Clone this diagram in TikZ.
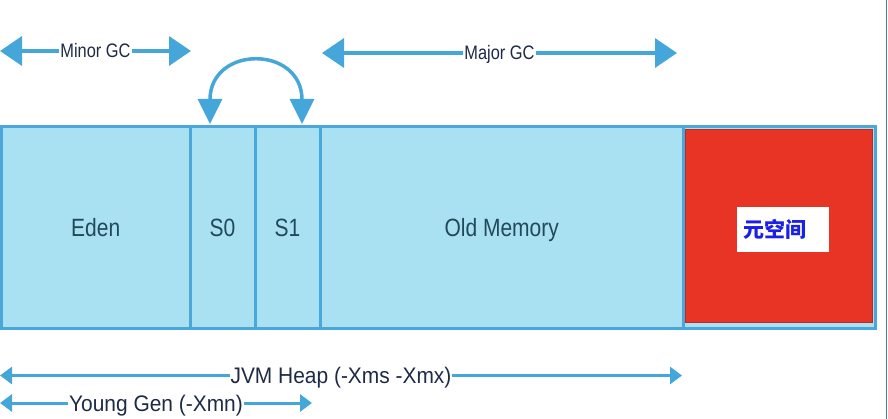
\documentclass[tikz,border=0pt]{standalone}
\usepackage{fontspec}
\setmainfont{Liberation Sans}
\newfontfamily\cjk{Noto Sans CJK SC}
\usetikzlibrary{arrows.meta}
\definecolor{heapfill}{HTML}{A9E1F3}
\definecolor{heapline}{HTML}{4AA7DA}
\definecolor{arrowblue}{HTML}{45A6DA}
\definecolor{labtext}{HTML}{1E2B45}
\definecolor{regtext}{HTML}{22495A}
\definecolor{metared}{HTML}{E73425}
\definecolor{metaedge}{HTML}{B92A20}
\definecolor{metatext}{HTML}{1A20E6}
\definecolor{edgeline}{HTML}{4A7F78}
\newcommand{\nar}[2][0.84]{\scalebox{#1}[1]{#2}}
\begin{document}
\begin{tikzpicture}[x=1pt,y=-1pt,
  region/.style={draw=heapline, fill=heapfill, line width=3pt, minimum height=202pt,
    inner sep=0pt, text=regtext, font=\fontsize{25}{25}\selectfont, text height=18pt, text depth=0pt},
  gcarrow/.style={draw=arrowblue, line width=3.5pt,
    {Triangle[length=22pt,width=29pt]}-{Triangle[length=22pt,width=29pt]}},
  curvearrow/.style={draw=arrowblue, line width=3.5pt,
    {Triangle[length=25pt,width=24pt]}-{Triangle[length=25pt,width=24pt]}},
  heaparrow/.style={draw=arrowblue, line width=3pt,
    {Triangle[length=12pt,width=17pt]}-{Triangle[length=12pt,width=17pt]}},
  gclabel/.style={fill=white, text=labtext, inner xsep=1pt, inner ysep=1pt,
    font=\fontsize{19.5}{19.5}\selectfont, text height=14pt, text depth=0pt},
  heaplabel/.style={fill=white, text=labtext, inner xsep=1pt, inner ysep=1pt,
    font=\fontsize{22.5}{22.5}\selectfont, text height=16pt, text depth=0pt}
]
\useasboundingbox (0,0) rectangle (888,419);

% heap regions
\node[region, minimum width=188.5pt] (eden) at (95.75,227.5) {\nar{Eden}};
\node[region, minimum width=65pt] (s0) at (222.5,227.5) {\nar{S0}};
\node[region, minimum width=65pt] (s1) at (287.5,227.5) {\nar{S1}};
\node[region, minimum width=363.5pt] (old) at (501.75,227.5) {\nar{Old Memory}};
\node[region, minimum width=192pt] (meta) at (779.5,227.5) {};
\node[fill=metared, draw=metaedge, line width=0.8pt, minimum width=187pt, minimum height=193pt, inner sep=0pt] (metared) at (779,226) {};
\node[fill=white, minimum width=92pt, minimum height=45pt, text width=80pt, inner xsep=6pt, inner ysep=0pt, align=left,
  text=metatext, font=\cjk\bfseries\fontsize{21}{21}\selectfont] (metalabel) at (783,229.5) {元空间};

% GC arrows
\coordinate (minorL) at (0,51);
\coordinate (minorR) at (191,51);
\coordinate (majorL) at (322,53);
\coordinate (majorR) at (677,53);
\draw[gcarrow] (minorL) -- node[gclabel] {\nar{Minor GC}} (minorR);
\draw[gcarrow] (majorL) -- node[gclabel] {\nar{Major GC}} (majorR);

% survivor swap arrow
\coordinate (s0tip) at (210,124);
\coordinate (s1tip) at (302,124);
\draw[curvearrow] (s0tip) .. controls (210,45) and (302,45) .. (s1tip);

% heap size arrows
\coordinate (jvmL) at (0,375.5);
\coordinate (jvmR) at (682,375.5);
\coordinate (youngL) at (0,403);
\coordinate (youngR) at (312,403);
\draw[heaparrow] (jvmL) -- node[heaplabel] {\nar[0.93]{JVM Heap (-Xms -Xmx)}} (jvmR);
\draw[heaparrow] (youngL) -- node[heaplabel] {\nar[0.93]{Young Gen (-Xmn)}} (youngR);

% right edge line
\draw[edgeline, line width=1pt] (886,0) -- (886,419);
\end{tikzpicture}
\end{document}
